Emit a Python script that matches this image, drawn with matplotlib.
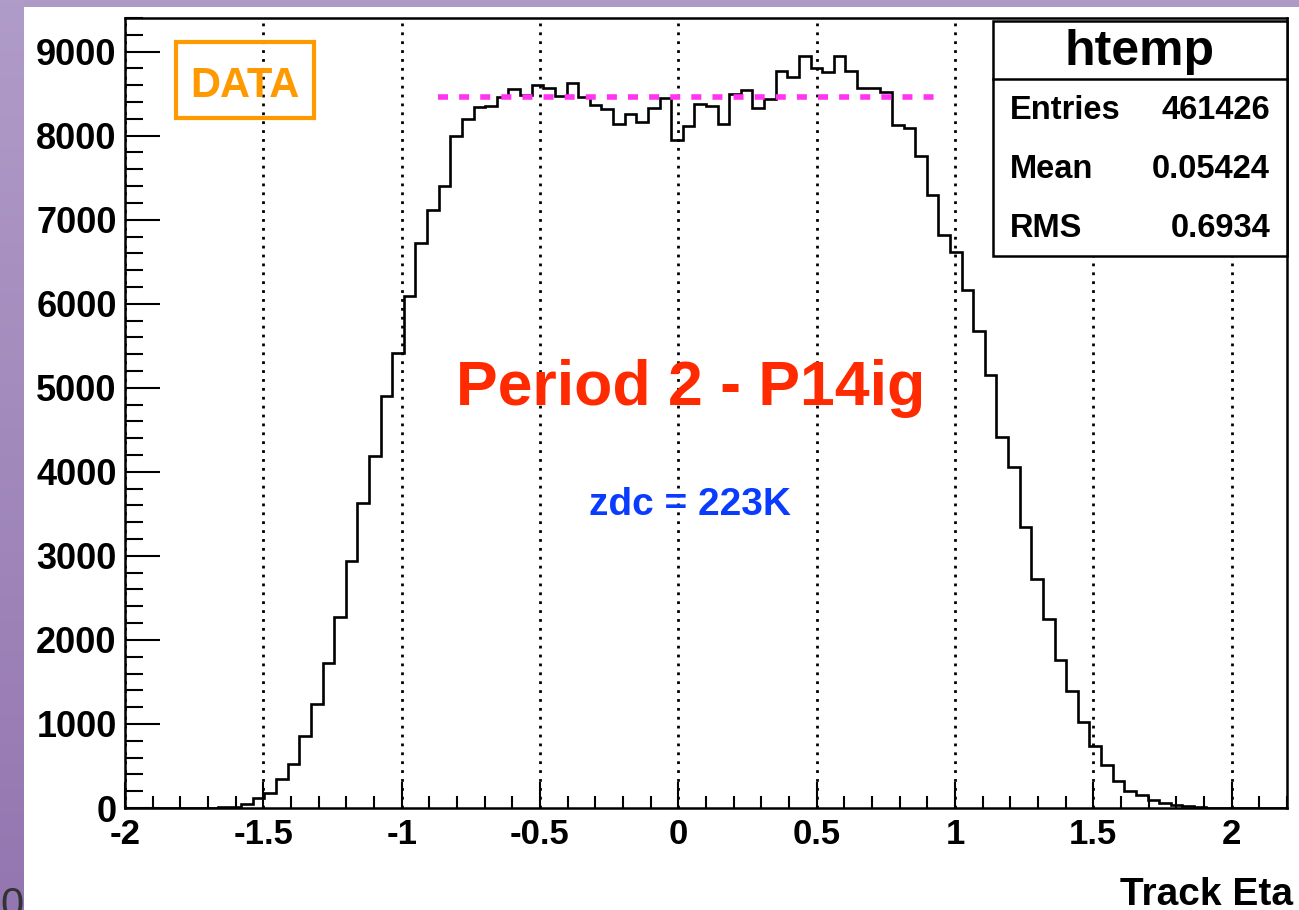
import numpy as np
import matplotlib
matplotlib.use("Agg")
import matplotlib.pyplot as plt
from matplotlib.patches import Rectangle
from matplotlib.lines import Line2D

plt.rcParams['font.family'] = ['Liberation Sans', 'DejaVu Sans']
plt.rcParams['font.weight'] = 'bold'

# histogram: 100 bins from -2 to 2.2 (ROOT htemp auto binning)
bin_lo, bin_hi, n_bins = -2.0, 2.2, 100
counts = [0, 0, 0, 0, 0, 0, 0, 0, 8, 15,
          44, 115, 183, 349, 528, 861, 1234, 1722, 2270, 2940,
          3627, 4183, 4897, 5413, 6095, 6722, 7111, 7397, 7992, 8199,
          8337, 8357, 8456, 8556, 8488, 8599, 8567, 8468, 8627, 8456,
          8361, 8321, 8143, 8258, 8159, 8333, 8448, 7944, 8111, 8381,
          8349, 8139, 8496, 8548, 8329, 8437, 8766, 8694, 8944, 8806,
          8758, 8952, 8766, 8567, 8567, 8516, 8127, 8087, 7762, 7290,
          6821, 6615, 6158, 5679, 5151, 4409, 4060, 3349, 2726, 2246,
          1762, 1397, 1024, 742, 516, 325, 206, 155, 95, 56,
          36, 20, 6, 0, 0, 0, 0, 0, 0, 0]
y_max = 9400

# magenta reference level
ref_level = 8464
ref_x = [-0.87, 0.94]

x_ticks = [-2, -1.5, -1, -0.5, 0, 0.5, 1, 1.5, 2]
x_ticklabels = ['-2', '-1.5', '-1', '-0.5', '0', '0.5', '1', '1.5', '2']
y_ticks = [0, 1000, 2000, 3000, 4000, 5000, 6000, 7000, 8000, 9000]

stats_title = 'htemp'
stats_names = ['Entries', 'Mean', 'RMS']
stats_values = ['461426', '0.05424', '0.6934']

W, H = 1299, 910


def px(x, y):
    # pixel (from top-left) -> figure fraction
    return x / W, 1 - y / H


fig = plt.figure(figsize=(W / 100, H / 100), dpi=100)
fig.patch.set_facecolor('white')

# purple slide background strips
grad = fig.add_axes([0, 0, 24 / W, 1])
g = np.linspace(0, 1, 256).reshape(-1, 1)
c_top = np.array([176, 156, 200]) / 255
c_bot = np.array([148, 118, 176]) / 255
img = c_top[None, None, :] * (1 - g[:, :, None]) + c_bot[None, None, :] * g[:, :, None]
grad.imshow(img, aspect='auto', extent=[0, 1, 0, 1])
grad.axis('off')
fig.add_artist(Rectangle(px(0, 7), 1, 7 / H, transform=fig.transFigure,
                         facecolor='#ae9ac4', edgecolor='none', zorder=0))
fig.text(24 / W, 1 - 886 / H, '0', ha='right', va='top', fontsize=30,
         fontweight='normal', color='#333333')

ax = fig.add_axes([125 / W, 1 - 808 / H, (1287 - 125) / W, (808 - 18) / H])
edges = np.linspace(bin_lo, bin_hi, n_bins + 1)
ax.stairs(counts, edges, color='black', linewidth=1.9, zorder=3)
ax.hlines(ref_level, ref_x[0], ref_x[1], colors='#ff33f0', linewidth=4,
          linestyles=(0, (1.8, 2.0)), zorder=4)

ax.set_xlim(bin_lo, bin_hi)
ax.set_ylim(0, y_max)
ax.set_xticks(x_ticks)
ax.set_xticklabels(x_ticklabels)
ax.set_xticks(np.arange(-2, 2.21, 0.1), minor=True)
ax.set_yticks(y_ticks)
ax.set_yticks(np.arange(0, 9401, 200), minor=True)

ax.tick_params(axis='x', which='major', direction='in', length=19, width=1.5,
               labelsize=25, pad=7)
ax.tick_params(axis='x', which='minor', direction='in', length=9, width=1.5)
ax.tick_params(axis='y', which='major', direction='in', length=25, width=1.5,
               labelsize=26, pad=6)
ax.tick_params(axis='y', which='minor', direction='in', length=13, width=1.5)
for s in ax.spines.values():
    s.set_linewidth(1.8)

ax.grid(axis='x', which='major', color='black', linestyle=(0, (1, 2.2)),
        linewidth=2.0)
ax.set_axisbelow(True)

# stats box
x0 = (993 - 125) / 1162
y0 = (808 - 256) / 790
y_div = (808 - 79) / 790
y_top = (808 - 21) / 790
ax.add_patch(Rectangle((x0, y0), 1 - x0, y_top - y0, transform=ax.transAxes,
                       facecolor='white', edgecolor='black', linewidth=1.8,
                       zorder=6, clip_on=False))
ax.add_line(Line2D([x0, 1], [y_div, y_div], transform=ax.transAxes,
                   color='black', linewidth=1.8, zorder=7, clip_on=False))
fig.text(*px(1140, 65), stats_title, ha='center', va='baseline', fontsize=36)
for i, (nm, val) in enumerate(zip(stats_names, stats_values)):
    yb = [119, 178, 237][i]
    fig.text(*px(1010, yb), nm, ha='left', va='baseline', fontsize=23.5)
    fig.text(*px(1270, yb), val, ha='right', va='baseline', fontsize=23.5)

# DATA label box
fig.add_artist(Rectangle(px(176, 118), (314 - 176) / W, (118 - 42) / H,
                         transform=fig.transFigure, facecolor='none',
                         edgecolor='#ff9900', linewidth=3, zorder=5))
fig.text(*px(245, 97), 'DATA', ha='center', va='baseline', fontsize=30,
         color='#ff9900')

fig.text(*px(691, 405), 'Period 2 - P14ig', ha='center', va='baseline',
         fontsize=45, color='#ff2a00')
fig.text(*px(690, 515), 'zdc = 223K', ha='center', va='baseline',
         fontsize=28, color='#0a3cff')

fig.text(*px(1293, 905), 'Track Eta', ha='right', va='baseline', fontsize=28)

fig.savefig('out.png', dpi=100)
